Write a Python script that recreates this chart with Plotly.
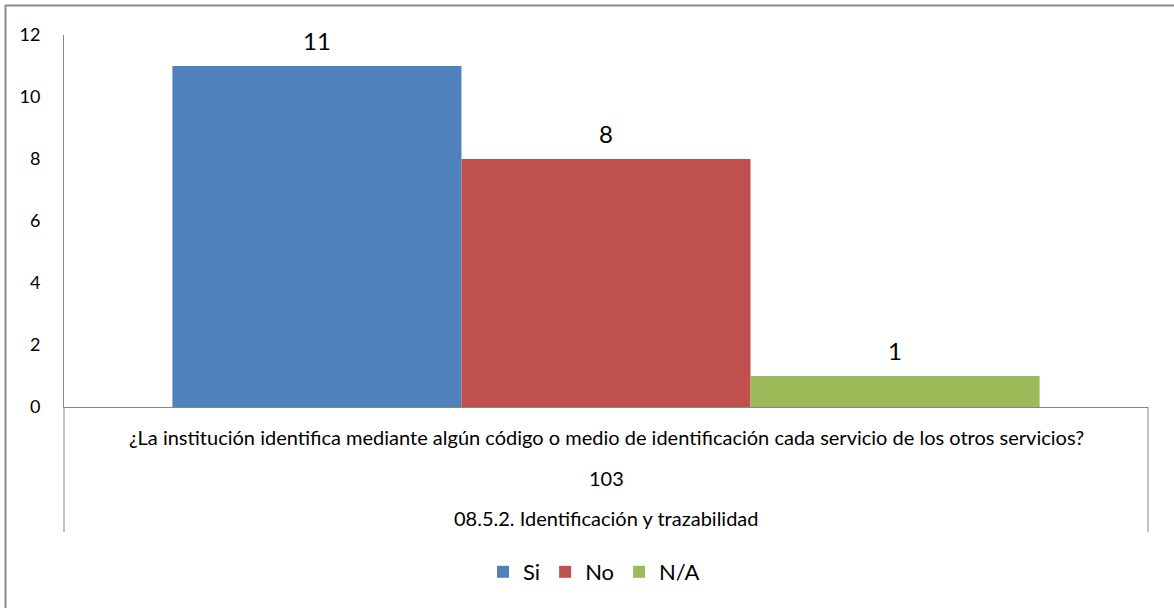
import plotly.graph_objects as go

# Survey item and its answer counts
question = "¿La institución identifica mediante algún código o medio de identificación cada servicio de los otros servicios?"
item_code = "103"
section = "08.5.2. Identificación y trazabilidad"

series_names = ["Si", "No", "N/A"]
series_values = [11, 8, 1]
series_colors = ["#4F81BD", "#C0504D", "#9BBB59"]

y_ticks = [0, 2, 4, 6, 8, 10, 12]

FONT = "Lato"
AXIS_GREY = "#868686"

fig = go.Figure()

for name, val, col in zip(series_names, series_values, series_colors):
    fig.add_trace(go.Bar(
        x=[question], y=[val], name=name,
        marker=dict(color=col, line=dict(width=0)),
        offsetgroup=name,
    ))

# Value labels, grouped the same way as the bars
for name, val in zip(series_names, series_values):
    fig.add_trace(go.Scatter(
        x=[question], y=[val], mode="markers+text",
        text=[str(val)], textposition="top center",
        textfont=dict(family=FONT, size=24, color="#000000"),
        marker=dict(size=15, opacity=0),
        offsetgroup=name, showlegend=False, hoverinfo="skip",
        cliponaxis=False,
    ))

W, H = 1174, 608
ml, mr, mt, mb = 64, 26, 35, 201
ph = H - mt - mb
pw = W - ml - mr


def py(px):
    return (H - mb - px) / ph


def pxx(px):
    return (px - ml) / pw


shapes = [
    # vertical separators of the category band
    dict(type="line", xref="paper", yref="paper", x0=0, x1=0, y0=0, y1=py(532),
         line=dict(color=AXIS_GREY, width=1)),
    dict(type="line", xref="paper", yref="paper", x0=1, x1=1, y0=0, y1=py(532),
         line=dict(color=AXIS_GREY, width=1)),
    # chart frame
    dict(type="rect", xref="paper", yref="paper", x0=pxx(5.5), x1=pxx(1190),
         y0=py(625), y1=py(5.5), line=dict(color="#8C8C8C", width=2),
         fillcolor="rgba(0,0,0,0)", layer="below"),
]

annotations = []
for txt, ypx in [(question, 437), (item_code, 478), (section, 518)]:
    annotations.append(dict(
        text=txt, xref="paper", yref="paper", x=0.5, y=py(ypx),
        xanchor="center", yanchor="middle", showarrow=False,
        font=dict(family=FONT, size=20, color="#000000"),
    ))

fig.update_layout(
    width=W, height=H,
    margin=dict(l=ml, r=mr, t=mt, b=mb, pad=0),
    paper_bgcolor="white", plot_bgcolor="white",
    barmode="group", bargap=0.2, bargroupgap=0,
    scattermode="group", scattergap=0.2,
    font=dict(family=FONT, color="#000000"),
    xaxis=dict(showticklabels=False, showline=True, linecolor=AXIS_GREY,
               linewidth=1, ticks="", showgrid=False, zeroline=False),
    yaxis=dict(range=[0, 12], tickvals=y_ticks, showline=True,
               linecolor=AXIS_GREY, linewidth=1, ticks="", showgrid=False,
               zeroline=False, ticklabelstandoff=19,
               tickfont=dict(family=FONT, size=18, color="#000000")),
    legend=dict(orientation="h", x=pxx(594), y=py(572), xanchor="center",
                yanchor="middle", font=dict(family=FONT, size=22),
                itemwidth=30, traceorder="normal"),
    shapes=shapes,
    annotations=annotations,
    showlegend=True,
)

fig.write_html("out.html")
